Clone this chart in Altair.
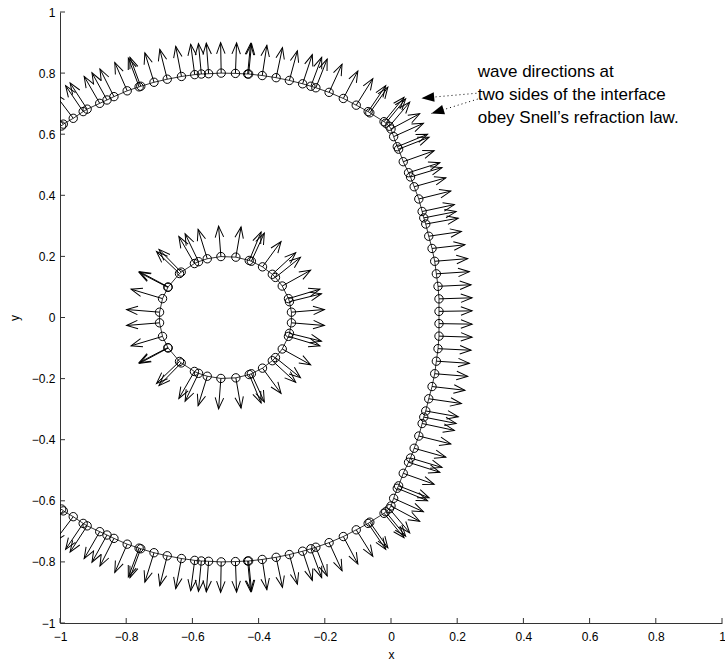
import math
import altair as alt
import pandas as pd

FONT = "Liberation Sans"
AXIS_COLOR = "#333333"

# plot-area size in pixels
W, H = 662, 611

# ---- outer interface: points (x, y) and wave direction (degrees) ----
outer_x = [-0.995, -0.990, -0.960, -0.930, -0.918, -0.880, -0.858, -0.837, -0.797, -0.761,
           -0.756, -0.716, -0.676, -0.633, -0.593, -0.573, -0.551, -0.513, -0.470, -0.433,
           -0.430, -0.389, -0.347, -0.307, -0.267, -0.242, -0.227, -0.187, -0.144, -0.105,
           -0.069, -0.064, -0.021, -0.016, -0.005, 0.000, 0.008, 0.019, 0.023, 0.037,
           0.053, 0.059, 0.070, 0.084, 0.094, 0.099, 0.105, 0.114, 0.124, 0.132,
           0.137, 0.142, 0.145, 0.145,
           0.145, 0.145, 0.142, 0.137, 0.132, 0.124, 0.114, 0.105, 0.099, 0.094,
           0.084, 0.070, 0.059, 0.053, 0.037, 0.023, 0.019, 0.008, 0.000, -0.005,
           -0.016, -0.021, -0.064, -0.069, -0.105, -0.144, -0.187, -0.227, -0.242, -0.267,
           -0.307, -0.347, -0.389, -0.430, -0.433, -0.470, -0.513, -0.551, -0.573, -0.593,
           -0.633, -0.676, -0.716, -0.756, -0.761, -0.797, -0.837, -0.858, -0.880, -0.918,
           -0.930, -0.960, -0.990, -0.995]
outer_y = [0.627, 0.633, 0.652, 0.674, 0.682, 0.701, 0.712, 0.723, 0.742, 0.755,
           0.757, 0.770, 0.780, 0.789, 0.795, 0.797, 0.798, 0.800, 0.799, 0.797,
           0.797, 0.792, 0.785, 0.776, 0.765, 0.757, 0.752, 0.737, 0.717, 0.695,
           0.674, 0.670, 0.641, 0.636, 0.626, 0.617, 0.592, 0.559, 0.551, 0.510,
           0.474, 0.460, 0.428, 0.388, 0.347, 0.326, 0.306, 0.266, 0.226, 0.184,
           0.143, 0.102, 0.061, 0.020,
           -0.020, -0.061, -0.102, -0.143, -0.184, -0.226, -0.266, -0.306, -0.326, -0.347,
           -0.388, -0.428, -0.460, -0.474, -0.510, -0.551, -0.559, -0.592, -0.617, -0.626,
           -0.636, -0.641, -0.670, -0.674, -0.695, -0.717, -0.737, -0.752, -0.757, -0.765,
           -0.776, -0.785, -0.792, -0.797, -0.797, -0.799, -0.800, -0.798, -0.797, -0.795,
           -0.789, -0.780, -0.770, -0.757, -0.755, -0.742, -0.723, -0.712, -0.701, -0.682,
           -0.674, -0.652, -0.633, -0.627]
outer_dir = [128, 128, 125, 122, 121, 118, 117, 115, 112, 109,
             109, 106, 103, 100, 97, 95, 94, 91, 88, 85,
             85, 82, 79, 76, 73, 71, 70, 67, 64, 60,
             58, 57, 53, 53, 52, 30, 26, 24, 23, 21,
             19, 18, 17, 15, 13, 12, 11, 9, 7, 5,
             4, 3, 2, 1,
             -1, -2, -3, -4, -5, -7, -9, -11, -12, -13,
             -15, -17, -18, -19, -21, -23, -24, -26, -30, -52,
             -53, -53, -57, -58, -60, -64, -67, -70, -71, -73,
             -76, -79, -82, -85, -85, -88, -91, -94, -95, -97,
             -100, -103, -106, -109, -109, -112, -115, -117, -118, -121,
             -122, -125, -128, -128]

# ---- inner circle (centre (-0.5, 0), radius 0.2): point angles and wave directions ----
INNER_CX, INNER_CY, INNER_R = -0.5, 0.0, 0.2
inner_theta = [5, 15, 18, 31, 41, 45, 56, 67, 69, 81, 94, 106, 114, 118, 132, 134, 150, 150.5,
               162, 175, 185, 198, 209.5, 210, 226, 228, 242, 246, 254, 266, 279, 291, 293,
               304, 315, 319, 329, 342, 345, 355]
inner_dir = [5, 15, 18, 31, 41, 45, 56, 67, 69, 81, 94, 106, 114, 118, 132, 134, 150, 150.5,
             162, 175, 185, 198, 209.5, 210, 226, 228, 242, 246, 254, 266, 279, 291, 293,
             304, 315, 319, 329, 342, 345, 355]

ARROW_LEN = 0.1

# ---- annotation ----
note_lines = ["wave directions at", "two sides of the interface", "obey Snell\u2019s refraction law."]
note_x = 0.262
note_y = [0.805, 0.728, 0.652]
pointer_tail_x = [0.258, 0.262]
pointer_tail_y = [0.734, 0.715]
pointer_tip_x = [0.092, 0.122]
pointer_tip_y = [0.718, 0.668]

tick_vals = [-1, -0.8, -0.6, -0.4, -0.2, 0, 0.2, 0.4, 0.6, 0.8, 1]

SX, SY = W / 2.0, H / 2.0  # pixels per data unit


def screen_angle(dx, dy):
    return math.degrees(math.atan2(-dy * SY, dx * SX)) % 360


def quiver_rows(xs, ys, dirs, name):
    rows = []
    for i, (x, y, d) in enumerate(zip(xs, ys, dirs)):
        r = math.radians(d)
        dx, dy = ARROW_LEN * math.cos(r), ARROW_LEN * math.sin(r)
        rows.append({"curve": name, "i": i, "x": x, "y": y,
                     "tx": x + dx, "ty": y + dy, "ang": screen_angle(dx, dy)})
    return rows


inner_x = [INNER_CX + INNER_R * math.cos(math.radians(t)) for t in inner_theta]
inner_y = [INNER_CY + INNER_R * math.sin(math.radians(t)) for t in inner_theta]

outer_df = pd.DataFrame(quiver_rows(outer_x, outer_y, outer_dir, "outer"))
inner_df = pd.DataFrame(quiver_rows(inner_x, inner_y, inner_dir, "inner"))
arrows_df = pd.concat([outer_df, inner_df], ignore_index=True)

# closed polyline for the inner circle
inner_line = inner_df[["x", "y", "i"]].copy()
first = inner_line.iloc[[0]].copy()
first["i"] = len(inner_line)
inner_line = pd.concat([inner_line, first], ignore_index=True)

note_df = pd.DataFrame({"text": note_lines, "x": [note_x] * 3, "y": note_y})
ptr_df = pd.DataFrame({
    "x": pointer_tail_x, "y": pointer_tail_y, "tx": pointer_tip_x, "ty": pointer_tip_y,
    "ang": [screen_angle(pointer_tip_x[k] - pointer_tail_x[k], pointer_tip_y[k] - pointer_tail_y[k])
            for k in range(2)],
})
ticks_df = pd.DataFrame({"v": tick_vals})

xs = alt.Scale(domain=[-1, 1], nice=False, zero=False)
ys = alt.Scale(domain=[-1, 1], nice=False, zero=False)

x_axis = alt.Axis(values=tick_vals, format="~g", ticks=False, grid=False,
                  domainColor=AXIS_COLOR, domainWidth=1, labelFont=FONT, labelFontSize=12,
                  labelColor="black", labelPadding=8, labelFlush=False, labelOverlap=False,
                  titleFont=FONT, titleFontSize=12, titleFontWeight="normal",
                  titleColor="black", titlePadding=7)
y_axis = alt.Axis(values=tick_vals, format="~g", ticks=False, grid=False,
                  domainColor=AXIS_COLOR, domainWidth=1, labelFont=FONT, labelFontSize=12,
                  labelColor="black", labelPadding=5, labelFlush=False, labelOverlap=False,
                  titleFont=FONT, titleFontSize=12, titleFontWeight="normal",
                  titleColor="black", titlePadding=10)


def X(f):
    return alt.X(f, type="quantitative", scale=xs, axis=x_axis, title="x")


def Y(f):
    return alt.Y(f, type="quantitative", scale=ys, axis=y_axis, title="y")


outer_line = alt.Chart(outer_df).mark_line(color="black", strokeWidth=0.8, clip=True).encode(
    x=X("x"), y=Y("y"), order="i:Q")
inner_curve = alt.Chart(inner_line).mark_line(color="black", strokeWidth=0.8, clip=True).encode(
    x=X("x"), y=Y("y"), order="i:Q")

markers = alt.Chart(arrows_df).mark_point(
    shape="circle", filled=False, size=70, color="black", strokeWidth=1, opacity=1, clip=True
).encode(x=X("x"), y=Y("y"))

shafts = alt.Chart(arrows_df).mark_rule(color="black", strokeWidth=1, clip=True).encode(
    x=X("x"), y=Y("y"), x2="tx", y2="ty")

heads = alt.Chart(arrows_df).mark_point(
    shape="M -1 -0.38 L 0 0 L -1 0.38", filled=False, size=500, color="black",
    strokeWidth=1, opacity=1, clip=True
).encode(x=X("tx"), y=Y("ty"), angle=alt.Angle("ang:Q", scale=None))

x_ticks = alt.Chart(ticks_df).mark_rule(color=AXIS_COLOR, strokeWidth=1).encode(
    x=X("v"), y=alt.value(H), y2=alt.value(H - 5))
y_ticks = alt.Chart(ticks_df).mark_rule(color=AXIS_COLOR, strokeWidth=1).encode(
    y=Y("v"), x=alt.value(0), x2=alt.value(5))

notes = alt.Chart(note_df).mark_text(
    align="left", baseline="middle", font=FONT, fontSize=17, color="black"
).encode(x=X("x"), y=Y("y"), text="text:N")

ptr_lines = alt.Chart(ptr_df).mark_rule(color="black", strokeWidth=1, strokeDash=[1, 3]).encode(
    x=X("x"), y=Y("y"), x2="tx", y2="ty")
ptr_heads = alt.Chart(ptr_df).mark_point(
    shape="M 0 0 L -1 -0.38 L -1 0.38 Z", filled=True, size=650, color="black", opacity=1
).encode(x=X("tx"), y=Y("ty"), angle=alt.Angle("ang:Q", scale=None))

chart = alt.layer(
    outer_line, inner_curve, shafts, heads, markers, x_ticks, y_ticks, notes, ptr_lines, ptr_heads
).properties(
    width=W, height=H, autosize="none",
    padding={"left": 60, "top": 12, "right": 3, "bottom": 43},
    background="white",
).configure_view(strokeWidth=0)

chart.save("out.html", embed_options={"renderer": "svg", "actions": False})
